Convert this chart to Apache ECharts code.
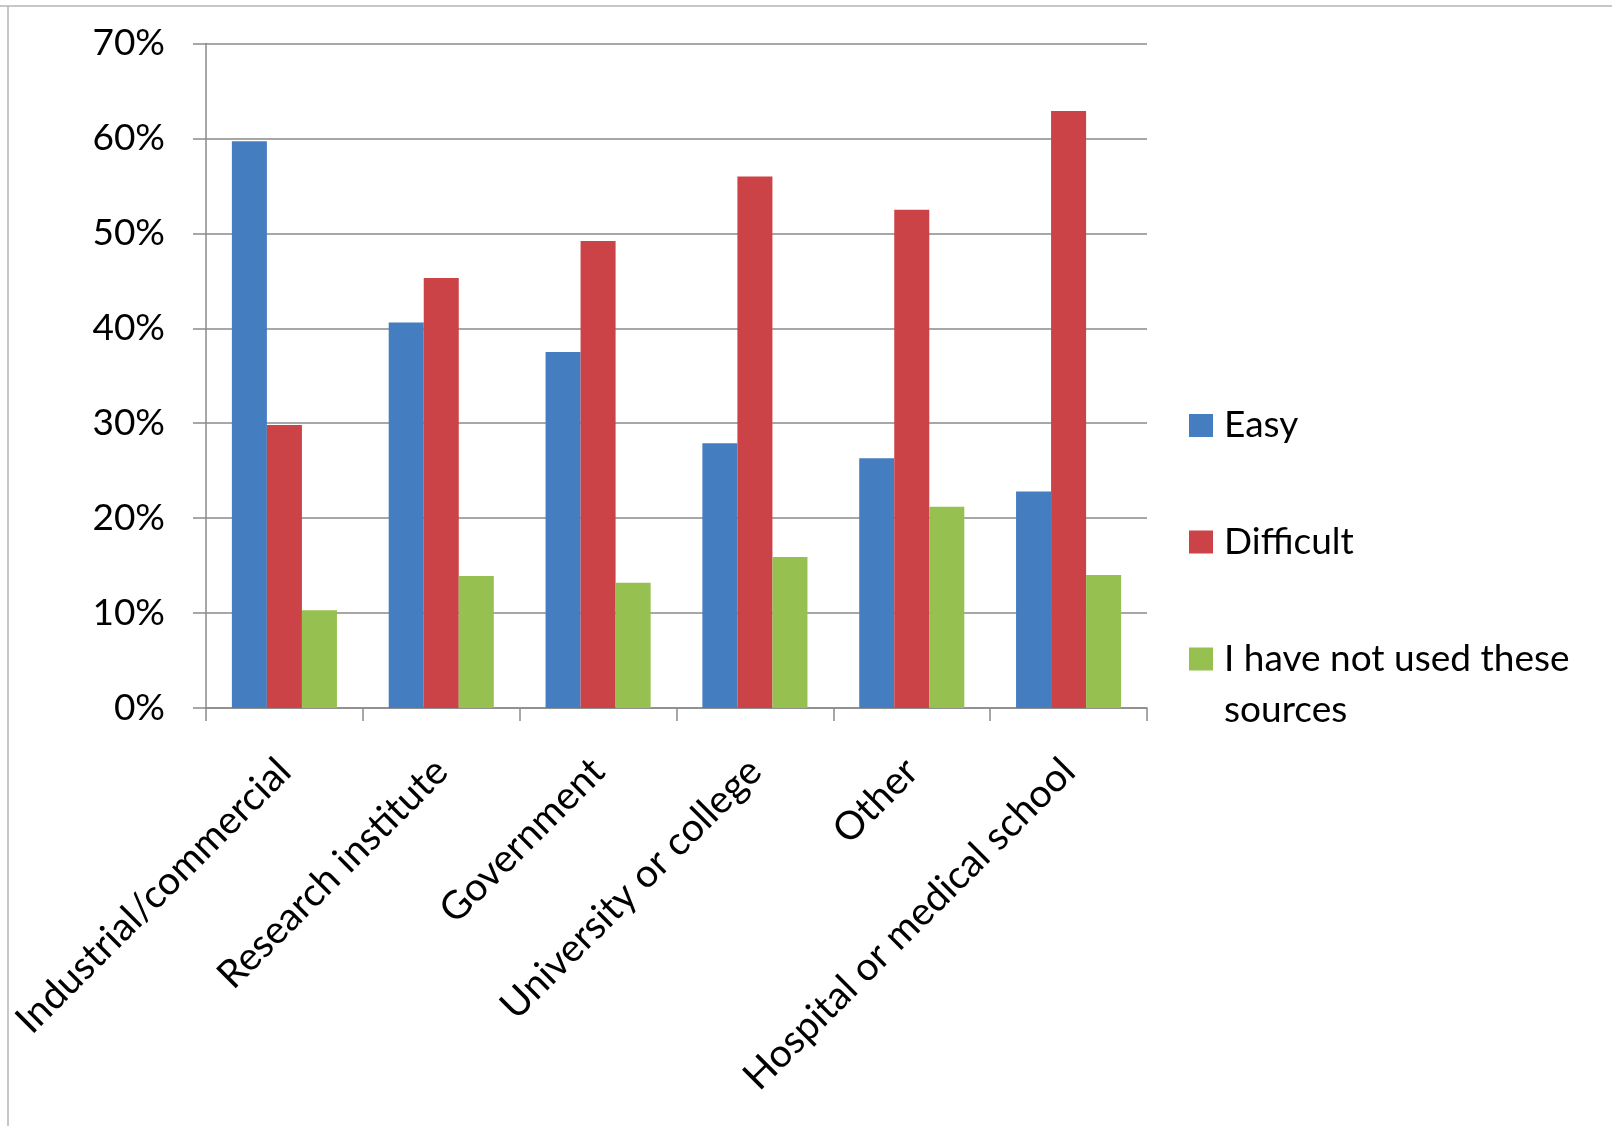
<!DOCTYPE html>
<html>
<head>
<meta charset="utf-8">
<script src="https://cdn.jsdelivr.net/npm/echarts@6/dist/echarts.min.js"></script>
<style>
html,body{margin:0;padding:0;background:#fff;}
#chart{width:1612px;height:1126px;}
</style>
</head>
<body>
<div id="chart"></div>
<script>
const categories = ['Industrial/commercial', 'Research institute', 'Government', 'University or college', 'Other', 'Hospital or medical school'];
const easy = [59.7, 40.6, 37.5, 27.9, 26.3, 22.8];
const difficult = [29.8, 45.3, 49.2, 56.0, 52.5, 62.9];
const notUsed = [10.3, 13.9, 13.2, 15.9, 21.2, 14.0];
const yTicks = [0, 10, 20, 30, 40, 50, 60, 70];
const seriesNames = ['Easy', 'Difficult', 'I have not used these sources'];

const FONT = 'Lato';
const colors = ['#457EC0', '#CC4347', '#96C050'];
const chart = echarts.init(document.getElementById('chart'));

function legendFor(name, top, text) {
  return {
    data: [name],
    orient: 'vertical',
    left: 1189,
    top: top,
    padding: 0,
    icon: 'rect',
    itemWidth: 24,
    itemHeight: 23,
    selectedMode: false,
    formatter: function () { return text; },
    textStyle: { fontFamily: FONT, fontSize: 37, color: '#000', lineHeight: 51, padding: [0, 0, 0, 6] }
  };
}

chart.setOption({
  backgroundColor: '#ffffff',
  animation: false,
  color: colors,
  grid: { left: 206, right: 465, top: 43.5, bottom: 418, containLabel: false },
  legend: [
    legendFor(seriesNames[0], 400, seriesNames[0]),
    legendFor(seriesNames[1], 516.5, seriesNames[1]),
    legendFor(seriesNames[2], 582.5, ' \nI have not used these\nsources')
  ],
  xAxis: {
    type: 'category',
    data: categories,
    boundaryGap: true,
    axisLine: { show: true, lineStyle: { color: '#8a8a8a', width: 1.5 } },
    axisTick: { show: true, length: 13, alignWithLabel: false, interval: 0, lineStyle: { color: '#8a8a8a', width: 1.5 } },
    axisLabel: {
      interval: 0, rotate: 45, margin: 57,
      fontFamily: FONT, fontSize: 39, color: '#000',
      padding: [48, 0, 0, 0]
    },
    splitLine: { show: false }
  },
  yAxis: {
    type: 'value',
    min: yTicks[0],
    max: yTicks[yTicks.length - 1],
    interval: 10,
    axisLine: { show: true, lineStyle: { color: '#8a8a8a', width: 1.5 } },
    axisTick: { show: true, length: 13, lineStyle: { color: '#8a8a8a', width: 1.5 } },
    axisLabel: { margin: 41, fontFamily: FONT, fontSize: 37, color: '#000', formatter: '{value}%' },
    splitLine: { show: true, lineStyle: { color: '#8a8a8a', width: 1.5 } }
  },
  series: [
    { name: seriesNames[0], type: 'bar', data: easy, barGap: '0%', barCategoryGap: '33%' },
    { name: seriesNames[1], type: 'bar', data: difficult, barGap: '0%', barCategoryGap: '33%' },
    { name: seriesNames[2], type: 'bar', data: notUsed, barGap: '0%', barCategoryGap: '33%' }
  ],
  graphic: [
    { type: 'line', silent: true, shape: { x1: 0, y1: 6, x2: 1612, y2: 6 }, style: { stroke: '#b4b4b4', lineWidth: 1.5 } },
    { type: 'line', silent: true, shape: { x1: 8, y1: 6, x2: 8, y2: 1126 }, style: { stroke: '#b4b4b4', lineWidth: 1.5 } }
  ]
});
</script>
</body>
</html>
